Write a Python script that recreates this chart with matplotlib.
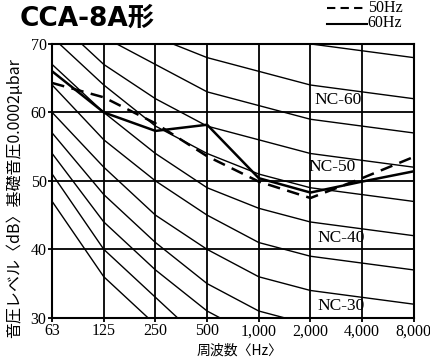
import matplotlib
matplotlib.use("Agg")
import matplotlib.pyplot as plt
from matplotlib.lines import Line2D

plt.rcParams['font.family'] = ['Liberation Serif', 'Noto Sans CJK JP', 'DejaVu Sans']

freq_labels = ["63", "125", "250", "500", "1,000", "2,000", "4,000", "8,000"]

nc_curves = {
    15: [47, 36, 29, 22, 17, 14, 12, 11],
    20: [51, 40, 33, 26, 22, 19, 17, 16],
    25: [54, 44, 37, 31, 27, 24, 22, 21],
    30: [57, 48, 41, 35, 31, 29, 28, 27],
    35: [60, 52, 45, 40, 36, 34, 33, 32],
    40: [64, 56, 50, 45, 41, 39, 38, 37],
    45: [67, 60, 54, 49, 46, 44, 43, 42],
    50: [71, 64, 58, 54, 51, 49, 48, 47],
    55: [74, 67, 62, 58, 56, 54, 53, 52],
    60: [77, 71, 67, 63, 61, 59, 58, 57],
    65: [80, 75, 71, 68, 66, 64, 63, 62],
    70: [83, 79, 75, 72, 71, 70, 69, 68],
}

level_50hz = [64.3, 62.2, 58.4, 53.6, 49.9, 47.5, 50.4, 53.5]
level_60hz = [66.0, 60.0, 57.3, 58.2, 50.4, 48.3, 49.9, 51.4]

nc_labels = ["NC-60", "NC-50", "NC-40", "NC-30"]
nc_label_pos = [(5.08, 61.8), (4.96, 52.0), (5.13, 41.6), (5.13, 31.7)]

fig = plt.figure(figsize=(4.31, 3.60), dpi=100)
ax = fig.add_axes([0.121, 0.117, 0.839, 0.761])

x = list(range(len(freq_labels)))

for v in [40, 50, 60]:
    ax.axhline(v, color='black', lw=1.3, zorder=1)
for xi in x[1:-1]:
    ax.axvline(xi, color='black', lw=1.3, zorder=1)

for nc, vals in nc_curves.items():
    ax.plot(x, vals, color='black', lw=1.0, zorder=2)

ax.plot(x, level_50hz, color='black', lw=1.8, dashes=(5, 3), zorder=3)
ax.plot(x, level_60hz, color='black', lw=1.8, zorder=3)

for lab, (lx, ly) in zip(nc_labels, nc_label_pos):
    ax.text(lx, ly, lab, fontsize=12.5, ha='left', va='center', zorder=4)

ax.set_xlim(0, 7)
ax.set_ylim(30, 70)
ax.set_xticks(x)
ax.set_xticklabels(freq_labels)
ax.set_yticks([30, 40, 50, 60, 70])
ax.tick_params(direction='out', length=3, width=1.3, labelsize=11.5, pad=1)
for s in ax.spines.values():
    s.set_linewidth(1.5)

fig.text(0.555, 0.027, "周波数〈Hz〉", ha='center', va='center', fontsize=10,
         family=['Noto Sans CJK JP', 'DejaVu Sans'])
fig.text(0.035, 0.45, "音圧レベル〈dB〉基礎音圧0.0002μbar", ha='center', va='center',
         rotation=90, fontsize=11.5, family=['Noto Sans CJK JP', 'DejaVu Sans'])

fig.text(0.045, 0.948, "CCA-8A形", ha='left', va='center', fontsize=19, fontweight='bold',
         family=['DejaVu Sans', 'Noto Sans CJK JP'])

# legend
fig.add_artist(Line2D([0.758, 0.852], [0.977, 0.977], color='black', lw=1.5, dashes=(4, 2.5)))
fig.add_artist(Line2D([0.758, 0.852], [0.933, 0.933], color='black', lw=1.5))
fig.text(0.853, 0.979, "50Hz", ha='left', va='center', fontsize=11.5)
fig.text(0.853, 0.935, "60Hz", ha='left', va='center', fontsize=11.5)

fig.savefig("out.png", dpi=100)
